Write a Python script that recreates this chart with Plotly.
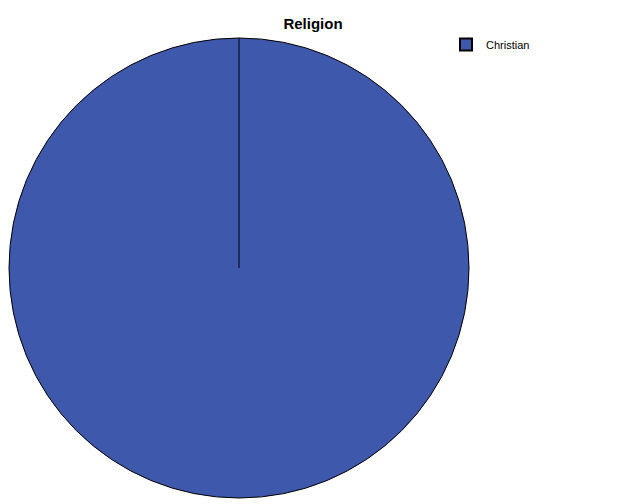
import plotly.graph_objects as go

# Religion frequencies
labels = ["Christian"]
counts = [100]

W, H = 629, 504
pie_x = [1 / W, 461 / W]
pie_y = [14 / H, 474 / H]

fig = go.Figure()
fig.add_trace(go.Pie(
    labels=labels,
    values=counts,
    domain=dict(x=pie_x, y=pie_y),
    marker=dict(colors=["#3e58ac"], line=dict(color="black", width=1)),
    textinfo="none",
    sort=False,
    direction="clockwise",
    rotation=0,
    showlegend=True,
))

# radial seam line from centre to the top, like the original chart
cx = (pie_x[0] + pie_x[1]) / 2
cy = (pie_y[0] + pie_y[1]) / 2
fig.add_shape(type="line", xref="paper", yref="paper",
              x0=cx, y0=cy, x1=cx, y1=pie_y[1],
              line=dict(color="black", width=1))

fig.update_layout(
    width=W, height=H,
    margin=dict(l=0, r=0, t=0, b=0),
    paper_bgcolor="white",
    plot_bgcolor="white",
    font=dict(family="Liberation Sans, Arial", size=11, color="black"),
    title=dict(text="<b>Religion</b>", x=305 / W, xanchor="center",
               y=1 - 16 / H, yanchor="middle",
               font=dict(size=15, color="black")),
    legend=dict(x=438 / W, y=1 - 22 / H, xanchor="left", yanchor="top",
                bgcolor="rgba(0,0,0,0)", font=dict(size=11),
                itemsizing="constant"),
)

fig.write_html("out.html")
